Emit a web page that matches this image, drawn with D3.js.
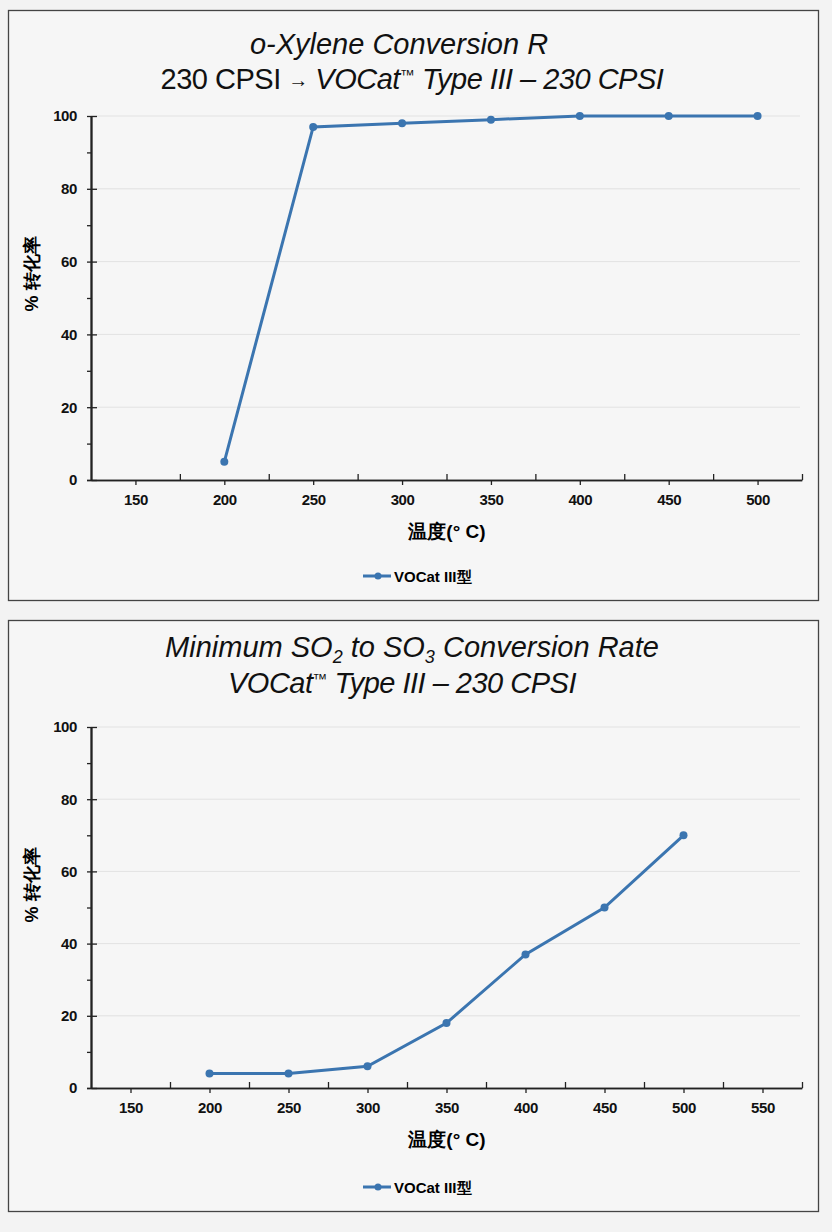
<!DOCTYPE html>
<html>
<head>
<meta charset="utf-8">
<script src="https://cdn.jsdelivr.net/npm/d3@7"></script>
<style>
  body { margin: 0; background: #f3f3f3; }
  svg text { font-family: "Liberation Sans", Arial, sans-serif; }
  .tick text { font-weight: bold; font-size: 15px; fill: #111; letter-spacing: -0.4px; }
  .title { font-size: 29px; fill: #111; }
</style>
</head>
<body>
<svg id="chart" width="832" height="1232"></svg>
<script>
// chart data
const xylTemps = [200, 250, 300, 350, 400, 450, 500];
const xylConv = [5, 97, 98, 99, 100, 100, 100];
const so2Temps = [200, 250, 300, 350, 400, 450, 500];
const so2Conv = [4, 4, 6, 18, 37, 50, 70];

const yTicks = [0, 20, 40, 60, 80, 100];
const yMinor = [10, 30, 50, 70, 90];
const xTicks1 = [150, 200, 250, 300, 350, 400, 450, 500];
const xMinor1 = [175, 225, 275, 325, 375, 425, 475, 525];
const xTicks2 = [150, 200, 250, 300, 350, 400, 450, 500, 550];
const xMinor2 = [175, 225, 275, 325, 375, 425, 475, 525, 575];

const yLabel = "% 转化率";
const xLabel = "温度(° C)";
const legendLabel = "VOCat III型";

const lineColor = "#3b75b0";
const svg = d3.select("#chart");

// "VOCat™ Type III – 230 CPSI" with a small trade mark sign
function vocatLine(t) {
	t.append("tspan").text("VOCat");
	t.append("tspan").attr("dy", -9).style("font-size", "15px").text("™");
	t.append("tspan").attr("dy", 9).text(" Type III – 230 CPSI");
}

function drawPanel(cfg) {
	// panel frame
	svg.append("rect")
		.attr("x", 8.5).attr("y", cfg.top + 0.5)
		.attr("width", 810).attr("height", cfg.height)
		.attr("fill", "#f6f6f6")
		.attr("stroke", "#444").attr("stroke-width", 1.3);

	// titles
	cfg.titles(svg);

	const x = d3.scaleLinear().domain(cfg.xDomain).range([91, 802]);
	const y = d3.scaleLinear().domain([0, 100]).range([cfg.y0, cfg.y100]);

	const g = svg.append("g");

	// gridlines
	g.selectAll(".grid")
		.data(yTicks.slice(1))
		.enter()
		.append("line")
		.attr("x1", 91).attr("x2", 800)
		.attr("y1", (d) => y(d)).attr("y2", (d) => y(d))
		.attr("stroke", "#e2e2e2").attr("stroke-width", 1);

	// y axis: major ticks cross the line, minor ones sit outside
	const yAxis = g.append("g").attr("transform", "translate(91,0)");
	yAxis.call(d3.axisLeft(y).tickValues(yTicks).tickSize(4).tickPadding(10).tickSizeOuter(0));
	yAxis.append("g").call(d3.axisLeft(y).tickValues(yTicks).tickSize(-6).tickFormat("").tickSizeOuter(0));
	yAxis.append("g").call(d3.axisLeft(y).tickValues(yMinor).tickSize(4).tickFormat("").tickSizeOuter(0));

	// x axis: major ticks below, minor ones above
	const xAxis = g.append("g").attr("transform", `translate(0,${cfg.y0})`);
	xAxis.call(d3.axisBottom(x).tickValues(cfg.xTicks).tickSize(5).tickPadding(9).tickSizeOuter(0));
	xAxis.append("g").call(d3.axisBottom(x).tickValues(cfg.xMinor).tickSize(-6).tickFormat("").tickSizeOuter(0));

	g.selectAll(".domain").attr("stroke", "#222").attr("stroke-width", 1.6);
	g.selectAll(".tick line").attr("stroke", "#222").attr("stroke-width", 1.3);
	xAxis.select(".domain").attr("d", `M87,0.5H802`);

	// axis titles
	g.append("text")
		.attr("transform", `translate(38,${cfg.yLabelY}) rotate(-90)`)
		.attr("text-anchor", "middle")
		.style("font-weight", "bold").style("font-size", "18px")
		.text(yLabel);

	g.append("text")
		.attr("x", 447).attr("y", cfg.y0 + 58)
		.attr("text-anchor", "middle")
		.style("font-weight", "bold").style("font-size", "19px")
		.text(xLabel);

	// series
	const pts = cfg.temps.map((t, i) => [t, cfg.values[i]]);
	g.append("path")
		.datum(pts)
		.attr("fill", "none")
		.attr("stroke", lineColor).attr("stroke-width", 3)
		.attr("d", d3.line().x((d) => x(d[0])).y((d) => y(d[1])));

	g.selectAll(".dot")
		.data(pts)
		.enter()
		.append("circle")
		.attr("cx", (d) => x(d[0])).attr("cy", (d) => y(d[1]))
		.attr("r", 4).attr("fill", lineColor);

	// legend
	const lg = g.append("g").attr("transform", `translate(363,${cfg.legendY})`);
	lg.append("line").attr("x1", 0).attr("x2", 28).attr("stroke", lineColor).attr("stroke-width", 3);
	lg.append("circle").attr("cx", 15).attr("r", 3.5).attr("fill", lineColor);
	lg.append("text")
		.attr("x", 31).attr("y", 5.5)
		.style("font-weight", "bold").style("font-size", "15px")
		.text(legendLabel);
}

drawPanel({
	top: 10, height: 590,
	y0: 480, y100: 116,
	xDomain: [125, 525], xTicks: xTicks1, xMinor: xMinor1,
	temps: xylTemps, values: xylConv,
	yLabelY: 274, legendY: 576,
	titles: (s) => {
		s.append("text").attr("class", "title")
			.attr("x", 399).attr("y", 54).attr("text-anchor", "middle")
			.style("font-style", "italic")
			.text("o-Xylene Conversion R");
		const t = s.append("text").attr("class", "title")
			.attr("x", 412).attr("y", 89).attr("text-anchor", "middle")
			.style("letter-spacing", "-0.5px");
		t.append("tspan").text("230 CPSI ");
		t.append("tspan").style("font-size", "20px").attr("dy", -2).text("→");
		t.append("tspan").attr("dy", 2).text(" ");
		vocatLine(t.append("tspan").style("font-style", "italic"));
	},
});

drawPanel({
	top: 620, height: 591,
	y0: 1088, y100: 727,
	xDomain: [125, 575], xTicks: xTicks2, xMinor: xMinor2,
	temps: so2Temps, values: so2Conv,
	yLabelY: 885, legendY: 1187,
	titles: (s) => {
		const t = s.append("text").attr("class", "title")
			.attr("x", 412).attr("y", 657).attr("text-anchor", "middle")
			.style("font-style", "italic");
		t.append("tspan").text("Minimum SO");
		t.append("tspan").attr("dy", 6).style("font-size", "18px").text("2");
		t.append("tspan").attr("dy", -6).text(" to SO");
		t.append("tspan").attr("dy", 6).style("font-size", "18px").text("3");
		t.append("tspan").attr("dy", -6).text(" Conversion Rate");
		const t2 = s.append("text").attr("class", "title")
			.attr("x", 402).attr("y", 693).attr("text-anchor", "middle")
			.style("font-style", "italic").style("letter-spacing", "-0.5px");
		vocatLine(t2);
	},
});
</script>
</body>
</html>
